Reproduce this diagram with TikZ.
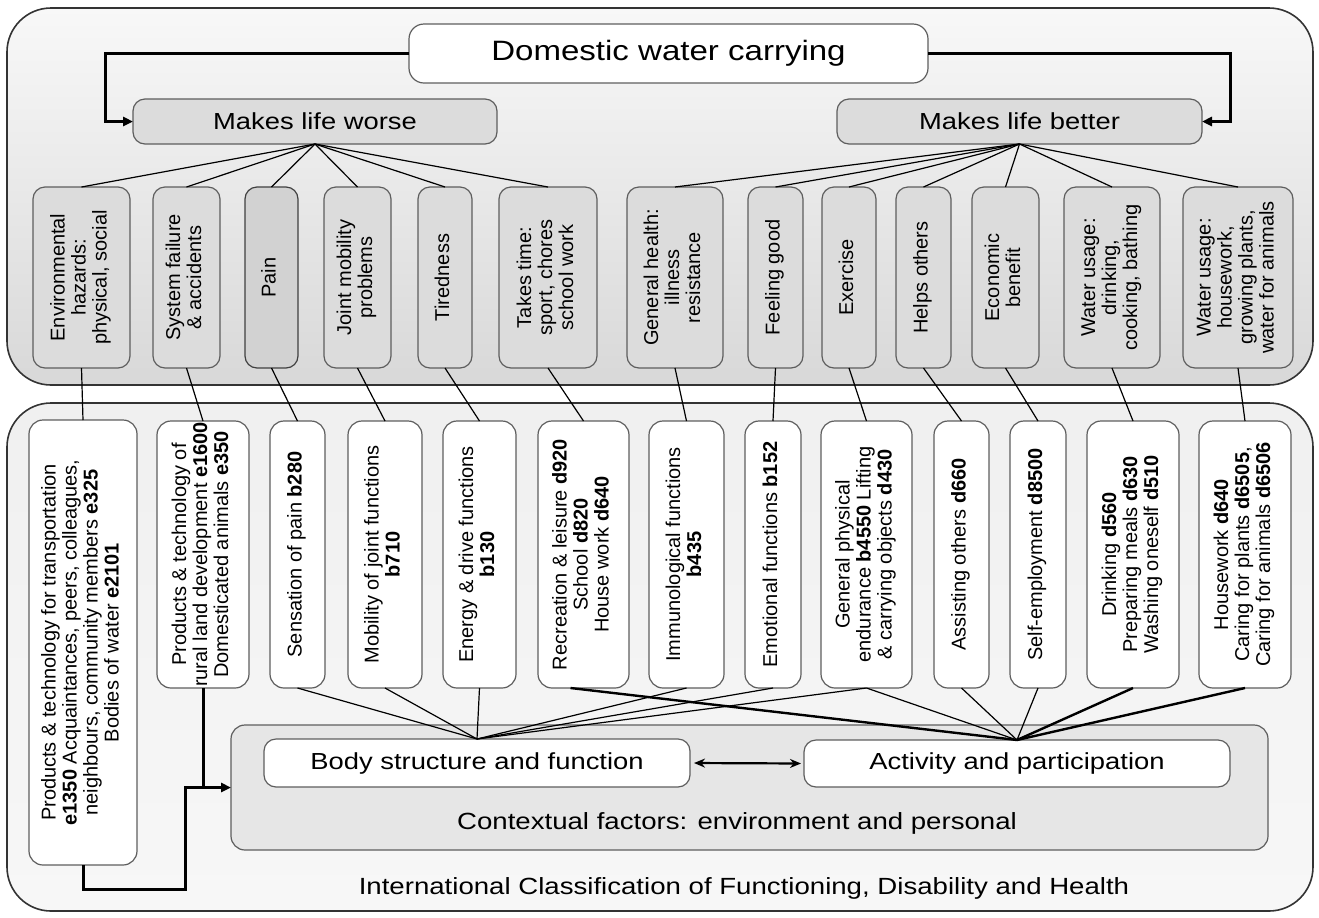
\documentclass[tikz,border=0pt]{standalone}
\usepackage{fontspec}
\setmainfont{Liberation Sans}
\newfontfamily\widefont[FakeStretch=1.18]{Liberation Sans}
\usetikzlibrary{arrows.meta,calc}
\definecolor{bord}{HTML}{5E5E5E}
\definecolor{outbord}{HTML}{333333}
\definecolor{ngray}{HTML}{DCDCDC}
\definecolor{pgray}{HTML}{D2D2D2}
\definecolor{ctxgray}{HTML}{E6E6E6}
\definecolor{topA}{HTML}{F8F8F8}
\definecolor{topB}{HTML}{D8D8D8}
\definecolor{botA}{HTML}{F0F0F0}
\definecolor{botB}{HTML}{F7F7F7}
\newcommand{\vt}[1]{\rotatebox{90}{\fontsize{10}{10.5}\selectfont\begin{tabular}{@{}c@{}}#1\end{tabular}}}
\begin{document}
\begin{tikzpicture}[x=0.5pt,y=-0.5pt,
  sz/.style 2 args={minimum width=#1*0.5pt,minimum height=#2*0.5pt},
  base/.style={draw=bord,line width=0.6pt,inner sep=0pt,outer sep=0pt},
  topn/.style={base,fill=ngray,rounded corners=6pt},
  botn/.style={base,fill=white,rounded corners=7pt},
  head/.style={base,rounded corners=6pt,font=\widefont\fontsize{11.6}{13}\selectfont},
  plain/.style={font=\widefont\fontsize{11.7}{13}\selectfont,inner sep=0pt},
  conn/.style={line width=0.6pt},
  thickconn/.style={line width=1.2pt},
  bigarrow/.style={line width=1.5pt,-{Triangle[length=5pt,width=4.5pt]}},
]
\useasboundingbox (0,0) rectangle (1319,917);
% outer boxes
\path[draw=outbord,line width=0.8pt,rounded corners=22pt,top color=topA,bottom color=topB] (7,8) rectangle (1313,385);
\path[draw=outbord,line width=0.8pt,rounded corners=22pt,top color=botA,bottom color=botB] (7,403) rectangle (1313,911);

% header nodes
\node[head,fill=white,sz={519}{59},rounded corners=7.5pt,font=\widefont\fontsize{14}{16}\selectfont] (dom) at (668.5,53.5) {Domestic water carrying};
\node[head,fill=ngray,sz={364}{45}] (mlw) at (315,121.5) {Makes life worse};
\node[head,fill=ngray,sz={365}{45}] (mlb) at (1019.5,121.5) {Makes life better};

% top row
\node[topn,sz={97}{181}] (t1) at (81.5,277.5) {\vt{Environmental\\hazards:\\physical, social}};
\node[topn,sz={67}{181}] (t2) at (186.5,277.5) {\vt{System failure\\\& accidents}};
\node[topn,sz={53}{181},fill=pgray,draw=black!75] (t3) at (271.5,277.5) {\vt{Pain}};
\node[topn,sz={67}{181}] (t4) at (357.5,277.5) {\vt{Joint mobility\\problems}};
\node[topn,sz={54}{181}] (t5) at (445,277.5) {\vt{Tiredness}};
\node[topn,sz={98}{181}] (t6) at (548,277.5) {\vt{Takes time:\\sport, chores\\school work}};
\node[topn,sz={96}{181}] (t7) at (675,277.5) {\vt{General health:\\illness\\resistance}};
\node[topn,sz={55}{181}] (t8) at (775.5,277.5) {\vt{Feeling good}};
\node[topn,sz={54}{181}] (t9) at (849,277.5) {\vt{Exercise}};
\node[topn,sz={55}{181}] (t10) at (923.5,277.5) {\vt{Helps others}};
\node[topn,sz={67}{181}] (t11) at (1005.5,277.5) {\vt{Economic\\benefit}};
\node[topn,sz={96}{181}] (t12) at (1112,277.5) {\vt{Water usage:\\drinking,\\cooking, bathing}};
\node[topn,sz={110}{181}] (t13) at (1238,277.5) {\vt{Water usage:\\housework,\\growing plants,\\water for animals}};

% bottom row
\node[botn,sz={108}{445}] (b1) at (83,642.5) {\vt{Products \& technology for transportation\\\textbf{e1350} Acquaintances, peers, colleagues,\\neighbours, community members \textbf{e325}\\Bodies of water \textbf{e2101}}};
\node[botn,sz={92}{267}] (b2) at (203,554.5) {\vt{Products \& technology of\\rural land development \textbf{e1600}\\Domesticated animals \textbf{e350}}};
\node[botn,sz={55}{267}] (b3) at (297.5,554.5) {\vt{Sensation of pain \textbf{b280}}};
\node[botn,sz={74}{267}] (b4) at (385,554.5) {\vt{Mobility of joint functions\\\textbf{b710}}};
\node[botn,sz={73}{267}] (b5) at (479.5,554.5) {\vt{Energy \& drive functions\\\textbf{b130}}};
\node[botn,sz={91}{267}] (b6) at (583.5,554.5) {\vt{Recreation \& leisure \textbf{d920}\\School \textbf{d820}\\House work \textbf{d640}}};
\node[botn,sz={75}{267}] (b7) at (686.5,554.5) {\vt{Immunological functions\\\textbf{b435}}};
\node[botn,sz={56}{267}] (b8) at (773,554.5) {\vt{Emotional functions \textbf{b152}}};
\node[botn,sz={91}{267}] (b9) at (866.5,554.5) {\vt{General physical\\endurance \textbf{b4550} Lifting\\\& carrying objects \textbf{d430}}};
\node[botn,sz={55}{267}] (b10) at (961.5,554.5) {\vt{Assisting others \textbf{d660}}};
\node[botn,sz={56}{267}] (b11) at (1038,554.5) {\vt{Self-employment \textbf{d8500}}};
\node[botn,sz={92}{267}] (b12) at (1133,554.5) {\vt{Drinking \textbf{d560}\\Preparing meals \textbf{d630}\\Washing oneself \textbf{d510}}};
\node[botn,sz={92}{267}] (b13) at (1245,554.5) {\vt{Housework \textbf{d640}\\Caring for plants \textbf{d6505},\\Caring for animals \textbf{d6506}}};

% ICF core
\node[base,fill=ctxgray,rounded corners=7pt,sz={1037}{125}] (ctx) at (749.5,787.5) {};
\node[plain] (ctxt) at (737,823) {Contextual factors: environment and personal};
\node[head,fill=white,sz={426}{48}] (body) at (477,763) {Body structure and function};
\node[head,fill=white,sz={426}{47}] (act) at (1017,763.5) {Activity and participation};
\node[plain] (icf) at (744,888) {International Classification of Functioning, Disability and Health};

% connectors
\draw[bigarrow] (dom.west) -| ([xshift=-14pt]mlw.west) -- (mlw.west);
\draw[bigarrow] (dom.east) -| ([xshift=14pt]mlb.east) -- (mlb.east);
\foreach \i in {1,...,6} \draw[conn] (mlw.south) -- (t\i.north);
\foreach \i in {7,...,13} \draw[conn] (mlb.south) -- (t\i.north);
\foreach \i in {1,...,13} \draw[conn] (t\i.south) -- (b\i.north);
\foreach \i in {3,4,5,7,8,9} \draw[conn] (b\i.south) -- (body.north);
\foreach \i in {9,10,11} \draw[conn] (b\i.south) -- (act.north);
\foreach \i in {12,13} \draw[thickconn] (b\i.south) -- (act.north);
\draw[thickconn] ([xshift=-6.5pt]b6.south) -- (act.north);
\draw[line width=1.1pt,{Stealth[length=5.5pt,width=4.5pt]}-{Stealth[length=5.5pt,width=4.5pt]},shorten <=2pt,shorten >=1.5pt] (body.east) -- (act.west);
\coordinate (k1) at (185,889);
\draw[bigarrow] (b1.south) |- (k1) |- (ctx.west);
\draw[line width=1.5pt] (b2.south) -- (b2.south |- ctx.west);
\end{tikzpicture}
\end{document}
